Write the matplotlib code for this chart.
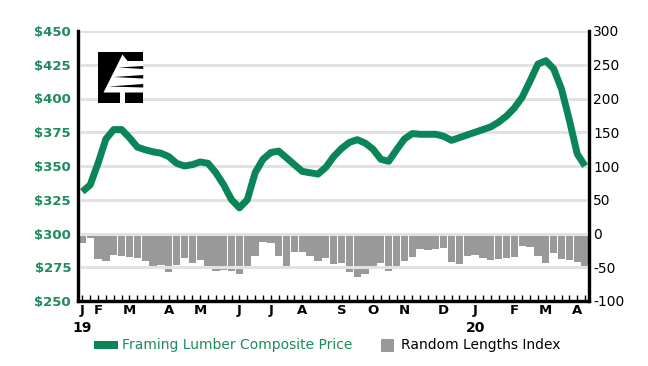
import matplotlib
matplotlib.use('Agg')
import matplotlib.pyplot as plt
import numpy as np
from matplotlib.patches import Rectangle, Polygon

# ---------------- data ----------------
weeks = np.arange(1, 66)  # weekly, Jan 18 2019 .. Apr 10 2020

price = [331, 336, 352, 370, 377, 377, 371, 364, 362, 360.5,
         359.5, 357, 352, 350, 351, 353, 352, 345, 336, 325,
         319, 325, 345, 355, 360, 361, 356, 351, 346, 345,
         344, 349, 357, 363, 367.5, 369.5, 367, 362.5, 355, 353.5,
         362, 370, 374, 373.5, 373.5, 373.5, 372, 369, 371, 373,
         375, 377, 379, 382.5, 387, 393, 401, 413, 425.5, 428,
         422, 407, 384, 359, 350]

rl_index = [-14, -6, -38, -40, -32, -33, -35, -37, -40, -48,
            -46, -57, -46, -37, -44, -39, -48, -55, -54, -55,
            -60, -49, -34, -12, -14, -34, -48, -28, -28, -34,
            -41, -36, -45, -44, -57, -64, -60, -52, -43, -55,
            -52, -41, -35, -23, -24, -23, -21, -42, -45, -33,
            -32, -36, -39, -38, -36, -35, -18, -20, -34, -43,
            -29, -38, -39, -42, -48]

month_labels = ['J', 'F', 'M', 'A', 'M', 'J', 'J', 'A', 'S', 'O', 'N', 'D',
                'J', 'F', 'M', 'A']
month_weeks = [1, 3, 7, 12, 16, 21, 25, 29, 34, 38, 42, 47, 51, 56, 60, 64]
year_labels = ['19', '20']
year_weeks = [1, 51]

left_ticks = [250, 275, 300, 325, 350, 375, 400, 425, 450]
left_labels = ['$250', '$275', '$300', '$325', '$350', '$375', '$400', '$425', '$450']
right_ticks = [-100, -50, 0, 50, 100, 150, 200, 250, 300]

# ---------------- style ----------------
GREEN = '#0a8558'
GREEN_TXT = '#1f8a5c'
BAR = '#999999'
GRID = '#e2e2e2'

W, H = 648, 366
fig = plt.figure(figsize=(W / 100, H / 100), dpi=100)
fig.patch.set_facecolor('white')

ax = fig.add_axes([78 / W, 65 / H, 511 / W, 270 / H])
ax2 = ax.twinx()

ax.set_xlim(0.45, 65.5)
ax.set_ylim(250, 450)
ax2.set_ylim(-100, 300)

# gridlines
for v in left_ticks[1:]:
    ax.axhline(v, color=GRID, lw=2.2, zorder=0)

# bars (right axis)
ax2.bar(weeks, rl_index, width=0.93, color=BAR, edgecolor='none', zorder=2)

# line (left axis) - put left axes above the twin
ax.set_zorder(ax2.get_zorder() + 1)
ax.patch.set_visible(False)
ax.plot(weeks, price, color=GREEN, lw=5.0, solid_joinstyle='round',
        solid_capstyle='butt', zorder=3)

# spines
for a in (ax, ax2):
    a.spines['top'].set_visible(False)
    for s in ('left', 'right', 'bottom'):
        a.spines[s].set_linewidth(2.3)
        a.spines[s].set_color('black')

# left ticks
ax.set_yticks(left_ticks)
ax.set_yticklabels(left_labels, color=GREEN_TXT, fontsize=9.5, fontweight='bold')
ax.tick_params(axis='y', length=0, pad=5)

# right ticks
ax2.set_yticks(right_ticks)
ax2.set_yticklabels([str(v) for v in right_ticks], fontsize=10, color='black')
ax2.tick_params(axis='y', length=0, pad=3)

# x ticks
ax.set_xticks(month_weeks)
ax.set_xticklabels(month_labels, fontsize=9.5, fontweight='bold')
ax.set_xticks(weeks, minor=True)
ax.tick_params(axis='x', which='both', direction='in', length=4, width=1,
               pad=2, color='black')
ax2.tick_params(axis='x', which='both', length=0)

# year labels
for w, lab in zip(year_weeks, year_labels):
    ax.text(w, -0.1, lab, transform=ax.get_xaxis_transform(), ha='center',
            va='center', fontsize=10, fontweight='bold', color='black')

# overlay for logo and legend (pixel coordinates)
ov = fig.add_axes([0, 0, 1, 1])
ov.set_zorder(10)
ov.set_xlim(0, W)
ov.set_ylim(H, 0)
ov.axis('off')

# logo
ov.add_patch(Rectangle((97.7, 51.5), 45.5, 51.5, color='black', lw=0))
ov.add_patch(Polygon([(122.5, 54.5), (127.5, 61), (143.2, 61), (143.2, 92.5),
                      (103.5, 92.5)], closed=True, color='white', lw=0))
for (lx, ly, r1, r2) in [(118.5, 67.5, 66.0, 69.0), (113.5, 77.0, 75.0, 78.5),
                         (108.5, 86.5, 84.0, 87.5)]:
    ov.add_patch(Polygon([(lx, ly), (143.2, r1), (143.2, r2)], closed=True,
                         color='black', lw=0))
ov.add_patch(Rectangle((119.5, 92), 5.5, 11, color='white', lw=0))

# legend
ov.add_patch(Rectangle((94.3, 341), 23.4, 8, color=GREEN, lw=0))
ov.text(122.3, 345, 'Framing Lumber Composite Price', color=GREEN_TXT,
        fontsize=10, va='center', ha='left')
ov.add_patch(Rectangle((381, 338.5), 13.3, 13, color=BAR, lw=0))
ov.text(400.7, 345, 'Random Lengths Index', color='black', fontsize=10,
        va='center', ha='left')

fig.savefig('out.png', dpi=100, facecolor='white')
